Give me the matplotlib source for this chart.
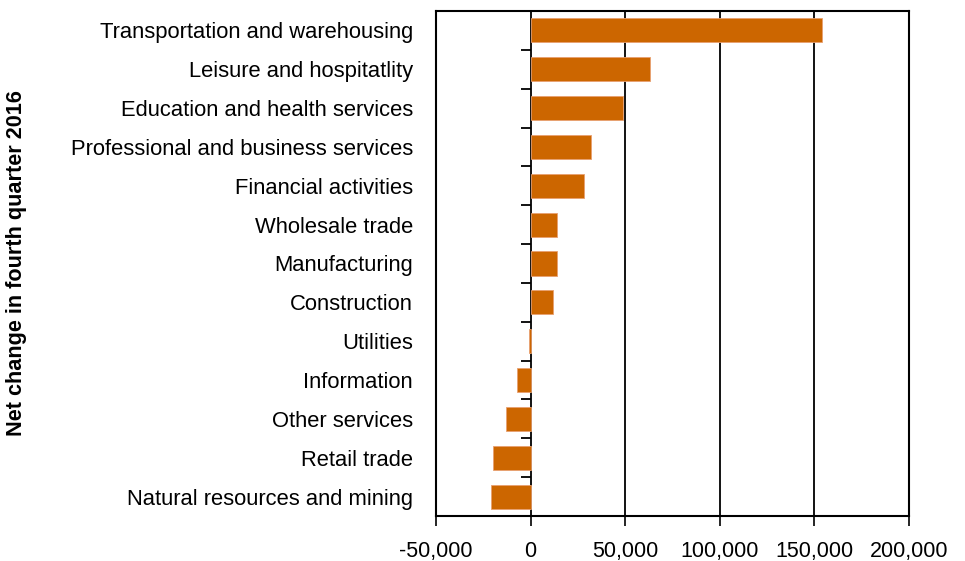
import matplotlib
matplotlib.use("Agg")
import matplotlib.pyplot as plt
from matplotlib.ticker import FuncFormatter

categories = [
    "Transportation and warehousing",
    "Leisure and hospitatlity",
    "Education and health services",
    "Professional and business services",
    "Financial activities",
    "Wholesale trade",
    "Manufacturing",
    "Construction",
    "Utilities",
    "Information",
    "Other services",
    "Retail trade",
    "Natural resources and mining",
]
values = [153800, 62900, 48800, 31900, 28000, 13700, 13700, 11800, -1000, -7200, -13000, -20100, -21100]
xticks = [-50000, 0, 50000, 100000, 150000, 200000]

plt.rcParams['font.family'] = ['Liberation Sans', 'DejaVu Sans']

fig = plt.figure(figsize=(9.65, 5.61), dpi=100)
ax = fig.add_axes([436/965, 1-516/561, (909-436)/965, (516-11)/561])

n = len(categories)
ypos = list(range(n))
ax.barh(ypos, values, height=0.62, color="#CC6600", edgecolor="#E8A070", linewidth=0.6, zorder=3)
ax.set_ylim(n - 0.5, -0.5)
ax.set_xlim(-50000, 200000)
ax.set_xticks(xticks)
ax.xaxis.set_major_formatter(FuncFormatter(lambda v, p: f"{int(v):,}"))
ax.tick_params(axis='x', direction='out', length=7, width=1.2, labelsize=15.5, pad=11, color='black')
ax.set_yticks(ypos)
ax.set_yticklabels(categories, fontsize=15.8)
ax.tick_params(axis='y', length=0, pad=16.5)
for x in xticks[2:]:
    ax.axvline(x, color='black', linewidth=1.3, zorder=2)
for s in ax.spines.values():
    s.set_linewidth(1.5)

sec = ax.secondary_yaxis(0.2)
sec.set_yticks([i - 0.5 for i in range(n + 1)])
sec.set_yticklabels([])
sec.tick_params(axis='y', direction='out', length=7, width=1.3)
sec.spines['left'].set_linewidth(1.3)

ax.set_ylabel("Net change in fourth quarter 2016", fontsize=15.6, fontweight='bold')
ax.yaxis.set_label_coords(-(436-27)/473, 0.5)

fig.savefig("out.png", dpi=100)
